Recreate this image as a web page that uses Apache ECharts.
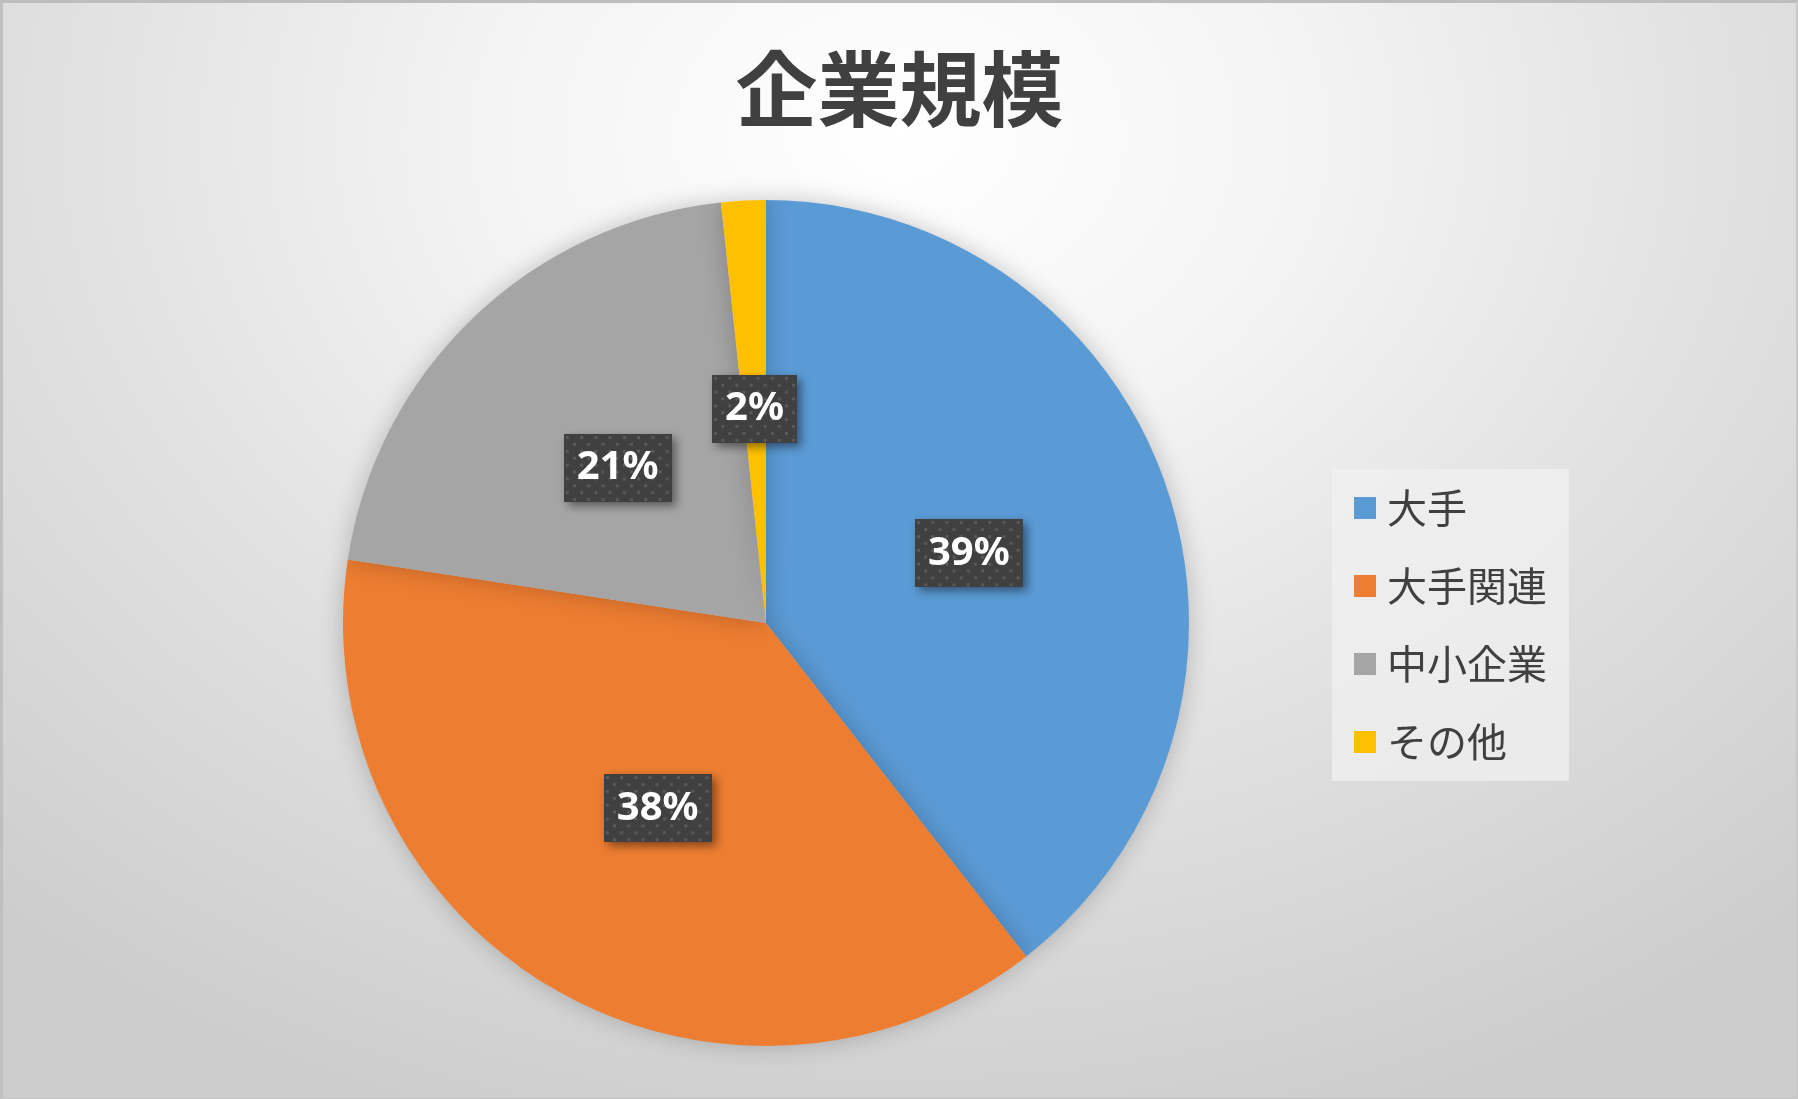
<!DOCTYPE html>
<html>
<head>
<meta charset="utf-8">
<script src="https://cdn.jsdelivr.net/npm/echarts@6/dist/echarts.min.js"></script>
<style>
html,body{margin:0;padding:0;width:100%;height:100%;overflow:hidden;}
#chart{width:1798px;height:1099px;box-sizing:border-box;border-top:3px solid #bdbdbd;border-left:3px solid #c0c0c0;border-right:2px solid #c8c8c8;border-bottom:2px solid #c8c8c8;
background:radial-gradient(ellipse 75% 95% at 50% 12%, #ffffff 0%, #f4f4f4 30%, #e2e2e2 60%, #cdcdcd 100%);}
</style>
</head>
<body>
<div id="chart"></div>
<script>
const categories = ['大手', '大手関連', '中小企業', 'その他'];
const values = [39.45, 37.95, 20.9, 1.7];
const colors = ['#5B9BD5', '#ED7D31', '#A5A5A5', '#FFC000'];
const titleText = '企業規模';

// dotted label background
function makePattern(w, h) {
  const c = document.createElement('canvas');
  c.width = w; c.height = h;
  const g = c.getContext('2d');
  g.fillStyle = '#404040';
  g.fillRect(0, 0, w, h);
  g.fillStyle = '#595959';
  let row = 0;
  for (let y = 2; y < h; y += 7, row++) {
    const off = (row % 2) ? 7 : 0;
    for (let x = 2 + off; x < w; x += 14) {
      g.fillRect(x, y, 3, 3);
    }
  }
  return c.toDataURL();
}
const patBig = makePattern(106, 69);
const patSmall = makePattern(84, 69);

const chart = echarts.init(document.getElementById('chart'), null, {renderer: 'canvas'});
const data = categories.map((n, i) => ({
  name: n,
  value: values[i],
  itemStyle: {color: colors[i]},
  label: {backgroundColor: {image: (n === 'その他') ? patSmall : patBig}}
}));

chart.setOption({
  backgroundColor: 'transparent',
  animation: false,
  title: {
    text: titleText,
    left: 'center',
    top: 40,
    textStyle: {
      fontFamily: 'Noto Sans CJK JP',
      fontWeight: 'bold',
      fontSize: 82,
      color: '#404040'
    }
  },
  legend: {
    orient: 'vertical',
    left: 1329,
    top: 466,
    data: categories,
    icon: 'rect',
    itemWidth: 22,
    itemHeight: 22,
    itemGap: 36,
    padding: [18, 22, 18, 22],
    backgroundColor: 'rgba(240,240,240,0.75)',
    textStyle: {
      fontFamily: 'Noto Sans CJK JP',
      fontSize: 40,
      lineHeight: 42,
      color: '#404040',
      padding: [0, 0, 0, 6]
    }
  },
  series: [{
    type: 'pie',
    center: [763, 620],
    radius: ['0%', 423],
    startAngle: 90,
    clockwise: true,
    data: data,
    itemStyle: {
      shadowBlur: 25,
      shadowColor: 'rgba(0,0,0,0.22)'
    },
    label: {
      show: true,
      position: 'inside',
      formatter: p => Math.round(p.percent) + '%',
      fontFamily: 'Noto Sans',
      fontWeight: 'bold',
      fontSize: 40,
      color: '#ffffff',
      padding: [15, 13, 13, 13],
      shadowBlur: 10,
      shadowOffsetX: 4,
      shadowOffsetY: 4,
      shadowColor: 'rgba(0,0,0,0.45)'
    },
    labelLine: {show: false},
    emphasis: {disabled: true}
  }]
});
</script>
</body>
</html>
